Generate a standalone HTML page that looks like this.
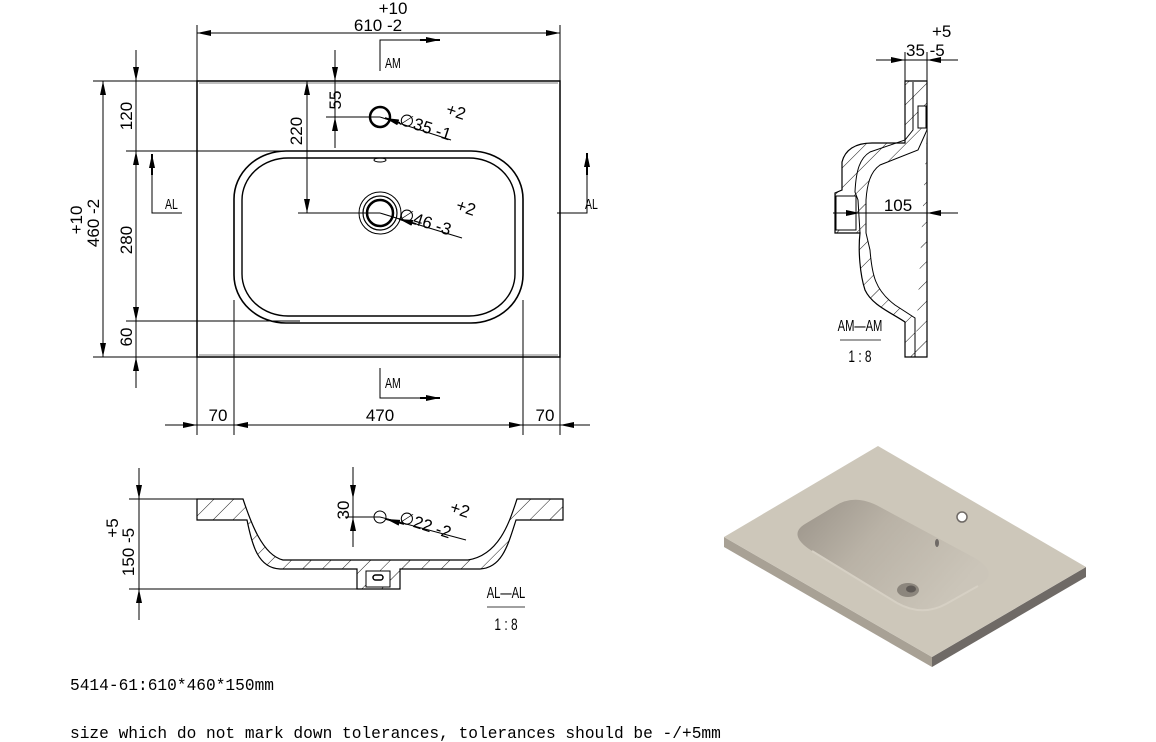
<!DOCTYPE html>
<html><head><meta charset="utf-8"><style>
html,body{margin:0;padding:0;background:#fff;}
svg{display:block;}
text{font-family:"Liberation Sans",sans-serif;fill:#000;}
.m{font-family:"Liberation Mono","Liberation Serif",monospace;}
</style></head><body>
<svg width="1156" height="742" viewBox="0 0 1156 742" xmlns="http://www.w3.org/2000/svg">
<defs>
<marker id="a" viewBox="0 0 14 6" refX="14" refY="3" markerWidth="14" markerHeight="6" markerUnits="userSpaceOnUse" orient="auto-start-reverse"><path d="M0,0 L14,3 L0,6z" fill="#000"/></marker>
<pattern id="h" width="14" height="14" patternUnits="userSpaceOnUse" patternTransform="rotate(45)"><line x1="0" y1="0" x2="0" y2="14" stroke="#000" stroke-width="0.9"/></pattern>
<linearGradient id="bg" x1="0" y1="0" x2="1" y2="0.5"><stop offset="0" stop-color="#9a9389"/><stop offset="0.45" stop-color="#b9b2a6"/><stop offset="1" stop-color="#cbc5b9"/></linearGradient>
</defs>
<g stroke="#000" stroke-width="1" fill="none">
<rect x="197" y="81" width="363" height="276" stroke-width="1.5"/>
<line x1="199" y1="83" x2="558" y2="83" stroke-width="0.6"/>
<line x1="199" y1="355" x2="558" y2="355" stroke-width="0.6"/>
<rect x="234" y="151" width="289" height="172" rx="52" ry="48" stroke-width="1.6"/>
<rect x="242" y="158" width="273" height="158" rx="46" ry="42" stroke-width="1.4"/>
<ellipse cx="380" cy="160" rx="6" ry="2"/>
<circle cx="380" cy="117" r="10" stroke-width="2.5"/>
<circle cx="380" cy="213" r="21"/>
<circle cx="380" cy="213" r="17" stroke-width="1.2"/>
<circle cx="380" cy="213" r="13" stroke-width="2.5"/>
<line x1="197" y1="25" x2="197" y2="435"/>
<line x1="560" y1="25" x2="560" y2="435"/>
<line x1="197" y1="33" x2="560" y2="33" marker-start="url(#a)" marker-end="url(#a)"/>
<polyline points="380,71 380,40 425,40"/><line x1="420" y1="40" x2="440" y2="40" marker-end="url(#a)" stroke-width="2"/>
<polyline points="380,368 380,398 425,398"/><line x1="420" y1="398" x2="440" y2="398" marker-end="url(#a)" stroke-width="2"/>
<line x1="93" y1="81" x2="197" y2="81"/>
<line x1="93" y1="357" x2="197" y2="357"/>
<line x1="103" y1="81" x2="103" y2="357" marker-start="url(#a)" marker-end="url(#a)"/>
<line x1="126" y1="151" x2="380" y2="151"/>
<line x1="126" y1="321" x2="300" y2="321"/>
<line x1="136" y1="50" x2="136" y2="81" marker-end="url(#a)"/>
<line x1="136" y1="81" x2="136" y2="151"/>
<line x1="136" y1="151" x2="136" y2="321" marker-start="url(#a)" marker-end="url(#a)"/>
<line x1="136" y1="321" x2="136" y2="357"/>
<line x1="136" y1="388" x2="136" y2="357" marker-end="url(#a)"/>
<polyline points="182,213 152,213 152,168"/><line x1="152" y1="175" x2="152" y2="154" marker-end="url(#a)" stroke-width="2"/>
<polyline points="557,213 587,213 587,168"/><line x1="587" y1="175" x2="587" y2="153" marker-end="url(#a)" stroke-width="2"/>
<line x1="307" y1="81" x2="307" y2="213" marker-start="url(#a)" marker-end="url(#a)"/>
<line x1="298" y1="213" x2="380" y2="213"/>
<line x1="335" y1="50" x2="335" y2="81" marker-end="url(#a)"/>
<line x1="335" y1="81" x2="335" y2="117"/>
<line x1="335" y1="148" x2="335" y2="117" marker-end="url(#a)"/>
<line x1="326" y1="117" x2="380" y2="117"/>
<line x1="380" y1="117" x2="451" y2="140"/><line x1="400" y1="123" x2="385" y2="118" marker-end="url(#a)" stroke-width="1.8"/>
<line x1="380" y1="213" x2="462" y2="238"/><line x1="416" y1="224" x2="399" y2="219" marker-end="url(#a)" stroke-width="1.8"/>
<line x1="234" y1="300" x2="234" y2="435"/>
<line x1="523" y1="300" x2="523" y2="435"/>
<line x1="165" y1="425" x2="197" y2="425" marker-end="url(#a)"/>
<line x1="197" y1="425" x2="234" y2="425"/>
<line x1="234" y1="425" x2="523" y2="425" marker-start="url(#a)" marker-end="url(#a)"/>
<line x1="523" y1="425" x2="560" y2="425"/>
<line x1="590" y1="425" x2="560" y2="425" marker-end="url(#a)"/>

<path d="M905,81 L927,81 L927,357 L905,357 L905,322 C890,312 872,305 865,290 C860,275 858,250 860,233 L835,233 L835,193 L842,190 L842,162 C845,150 855,143 872,143 L905,143 Z" fill="url(#h)" stroke-width="1.2"/>
<path d="M913,82 L913,130 L905,140 L870,152 C860,158 856,170 855,192 L858,200 L860,233" stroke-width="1"/>
<path d="M927,130 L918,150 L880,165 C870,172 867,185 866,200 L866,233 L870,250 C872,275 875,290 895,305 L915,318 L915,357" fill="#fff" stroke-width="1"/>
<rect x="918" y="106" width="8" height="22" fill="#fff"/>
<rect x="836" y="196" width="20" height="34" fill="#fff"/>
<line x1="876" y1="60" x2="905" y2="60" marker-end="url(#a)"/>
<line x1="905" y1="60" x2="927" y2="60"/>
<line x1="958" y1="60" x2="927" y2="60" marker-end="url(#a)"/>
<line x1="905" y1="52" x2="905" y2="81"/>
<line x1="927" y1="52" x2="927" y2="81"/>
<line x1="833" y1="213" x2="860" y2="213" marker-end="url(#a)"/>
<line x1="860" y1="213" x2="927" y2="213"/>
<line x1="958" y1="213" x2="927" y2="213" marker-end="url(#a)"/>
<line x1="840" y1="340" x2="881" y2="340" stroke-width="0.8"/>

<path d="M197,499 L243,499 C250,520 262,555 283,560 L468,560 C500,555 510,520 517,499 L563,499 L563,520 L516,520 C508,545 502,568 480,569 L400,569 L400,589 L357,589 L357,569 L280,569 C258,568 252,545 247,520 L197,520 Z" fill="url(#h)" stroke-width="1.2"/>
<rect x="366" y="571" width="24" height="16" fill="#fff"/>
<rect x="373" y="575" width="10" height="5" rx="2.5" stroke-width="1.5"/>
<line x1="129" y1="499" x2="197" y2="499"/>
<line x1="129" y1="589" x2="357" y2="589"/>
<line x1="139" y1="468" x2="139" y2="499" marker-end="url(#a)"/>
<line x1="139" y1="499" x2="139" y2="589"/>
<line x1="139" y1="620" x2="139" y2="589" marker-end="url(#a)"/>
<line x1="353" y1="467" x2="353" y2="499" marker-end="url(#a)"/>
<line x1="353" y1="499" x2="353" y2="517"/>
<line x1="353" y1="547" x2="353" y2="517" marker-end="url(#a)"/>
<line x1="345" y1="517" x2="380" y2="517"/>
<circle cx="380" cy="517" r="6"/>
<line x1="380" y1="517" x2="466" y2="540"/><line x1="404" y1="524" x2="386" y2="519" marker-end="url(#a)" stroke-width="1.8"/>
<line x1="487" y1="607" x2="525" y2="607" stroke-width="0.8"/>
</g>

<g font-size="17">
<text x="393" y="14" text-anchor="middle">+10</text>
<text x="378" y="31" text-anchor="middle">610  -2</text>
<text x="385" y="68" font-size="15" transform="translate(385,68) scale(0.7,1) translate(-385,-68)">AM</text>
<text x="385" y="388" font-size="15" transform="translate(385,388) scale(0.7,1) translate(-385,-388)">AM</text>
<text x="165" y="209" font-size="15" transform="translate(165,209) scale(0.7,1) translate(-165,-209)">AL</text>
<text x="585" y="209" font-size="15" transform="translate(585,209) scale(0.7,1) translate(-585,-209)">AL</text>
<text transform="translate(82,220) rotate(-90)" text-anchor="middle">+10</text>
<text transform="translate(99,223) rotate(-90)" text-anchor="middle">460  -2</text>
<text transform="translate(132,116) rotate(-90)" text-anchor="middle">120</text>
<text transform="translate(132,240) rotate(-90)" text-anchor="middle">280</text>
<text transform="translate(132,337) rotate(-90)" text-anchor="middle">60</text>
<text transform="translate(302,131) rotate(-90)" text-anchor="middle">220</text>
<text transform="translate(341,100) rotate(-90)" text-anchor="middle">55</text>
<text transform="translate(398,124) rotate(18)">∅35  -1</text>
<text transform="translate(445,114) rotate(18)">+2</text>
<text transform="translate(398,219) rotate(18)">∅46  -3</text>
<text transform="translate(455,210) rotate(18)">+2</text>
<text x="218" y="421" text-anchor="middle">70</text>
<text x="380" y="421" text-anchor="middle">470</text>
<text x="545" y="421" text-anchor="middle">70</text>
<text x="932" y="37">+5</text>
<text x="906" y="56">35  -5</text>
<text x="898" y="211" text-anchor="middle">105</text>
<text x="860" y="331" font-size="16" text-anchor="middle" transform="translate(860,331) scale(0.7,1) translate(-860,-331)">AM—AM</text>
<text x="860" y="362" font-size="17" text-anchor="middle" transform="translate(860,362) scale(0.7,1) translate(-860,-362)">1  :  8</text>
<text transform="translate(118,528) rotate(-90)" text-anchor="middle">+5</text>
<text transform="translate(134,552) rotate(-90)" text-anchor="middle">150  -5</text>
<text transform="translate(349,510) rotate(-90)" text-anchor="middle">30</text>
<text transform="translate(398,522) rotate(18)">∅22  -2</text>
<text transform="translate(449,512) rotate(18)">+2</text>
<text x="506" y="598" font-size="16" text-anchor="middle" transform="translate(506,598) scale(0.7,1) translate(-506,-598)">AL—AL</text>
<text x="506" y="630" font-size="17" text-anchor="middle" transform="translate(506,630) scale(0.7,1) translate(-506,-630)">1  :  8</text>
</g>

<polygon points="724,537 932,657 932,667 724,547" fill="#a8a195"/>
<polygon points="932,657 1086,567 1086,577 932,667" fill="#6f6a66"/>
<polygon points="878,446 1086,567 932,657 724,537" fill="#cdc7ba"/>
<path d="M805,524 L835,506 Q855,493 880,507 L973,557 Q1002,573 978,586 L946,604 Q922,617 897,603 L812,551 Q787,535 805,524 Z" fill="url(#bg)"/>
<path d="M812,551 L897,603 Q922,617 946,604 L978,586" fill="none" stroke="#d6d0c4" stroke-width="2"/>
<circle cx="962" cy="517" r="5" fill="#fff" stroke="#6f6a66" stroke-width="1.5"/>
<ellipse cx="908" cy="590" rx="11" ry="7" fill="#8c867d"/>
<ellipse cx="911" cy="589" rx="5" ry="3.5" fill="#5f5a56"/>
<ellipse cx="937" cy="543" rx="2" ry="4" fill="#6f6a66"/>

<text class="m" x="70" y="690" font-size="16.2">5414-61:610*460*150mm</text>
<text class="m" x="70" y="738" font-size="16.2">size which do not mark down tolerances, tolerances should be -/+5mm</text>
</svg>
</body></html>
